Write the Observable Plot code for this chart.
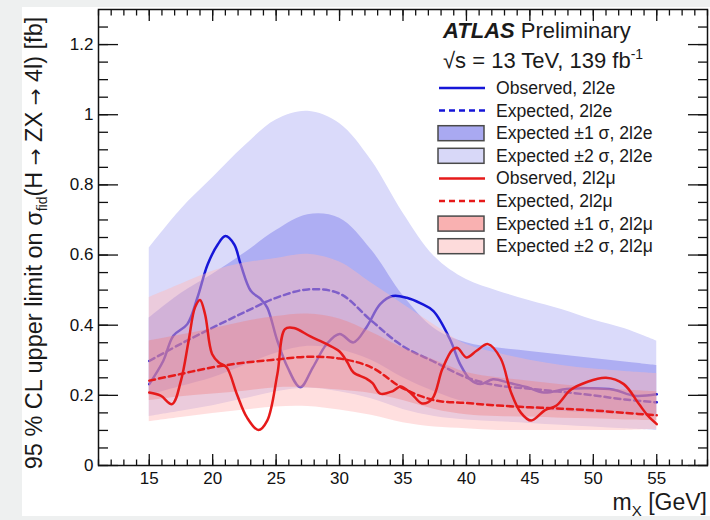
<!DOCTYPE html>
<html><head><meta charset="utf-8">
<script src="https://cdn.jsdelivr.net/npm/d3@7"></script>
<script src="https://cdn.jsdelivr.net/npm/@observablehq/plot@0.6"></script>
<style>
html,body{margin:0;padding:0;background:#eef0f0;width:710px;height:520px;overflow:hidden}
#panel{position:absolute;left:22px;top:7px;width:688px;height:509px;background:#fff}
#chart{position:absolute;left:0;top:0}
</style></head><body><div id="panel"></div><div id="chart"></div>
<script>
// ---- data ----
const bandX = [15, 17.5, 20, 22.5, 25, 27.5, 30, 32.5, 35, 37.5, 40, 42.5, 45, 47.5, 50, 52.5, 55];
// 2l2e expected bands
const e2Lo = [0.14, 0.155, 0.17, 0.19, 0.21, 0.22, 0.21, 0.19, 0.16, 0.14, 0.13, 0.125, 0.12, 0.115, 0.11, 0.105, 0.10];
const e2Hi = [0.62, 0.73, 0.82, 0.91, 0.985, 1.01, 0.975, 0.87, 0.72, 0.595, 0.53, 0.497, 0.47, 0.445, 0.415, 0.39, 0.355];
const e1Lo = [0.2, 0.225, 0.25, 0.285, 0.32, 0.34, 0.33, 0.3, 0.25, 0.21, 0.18, 0.17, 0.16, 0.155, 0.15, 0.145, 0.14];
const e1Hi = [0.42, 0.49, 0.545, 0.605, 0.67, 0.715, 0.705, 0.615, 0.485, 0.39, 0.35, 0.335, 0.325, 0.315, 0.305, 0.295, 0.285];
const eExp = [0.298, 0.347, 0.393, 0.437, 0.478, 0.502, 0.49, 0.413, 0.34, 0.295, 0.251, 0.228, 0.219, 0.21, 0.2, 0.188, 0.18];
// 2l2mu expected bands
const m2Lo = [0.125, 0.137, 0.148, 0.158, 0.167, 0.168, 0.158, 0.143, 0.122, 0.11, 0.105, 0.10, 0.10, 0.10, 0.10, 0.10, 0.103];
const m2Hi = [0.479, 0.517, 0.554, 0.577, 0.59, 0.602, 0.58, 0.52, 0.46, 0.40, 0.345, 0.32, 0.30, 0.285, 0.275, 0.268, 0.262];
const m1Lo = [0.185, 0.196, 0.204, 0.212, 0.222, 0.222, 0.215, 0.205, 0.185, 0.16, 0.145, 0.14, 0.138, 0.135, 0.133, 0.13, 0.128];
const m1Hi = [0.355, 0.372, 0.39, 0.41, 0.425, 0.432, 0.418, 0.38, 0.335, 0.30, 0.265, 0.25, 0.24, 0.23, 0.222, 0.215, 0.21];
const mExp = [0.242, 0.261, 0.28, 0.293, 0.302, 0.31, 0.305, 0.28, 0.22, 0.186, 0.178, 0.171, 0.166, 0.162, 0.157, 0.15, 0.143];
// observed limits
const eObsX = [15, 16.1, 16.9, 18, 18.8, 19.6, 20.4, 21, 21.7, 22.2, 23, 23.8, 24.3, 25.1, 25.9, 26.9, 27.9, 29, 30, 31.1, 32.1, 33.2, 34.2, 35.3, 36.4, 37.4, 38.7, 39.5, 40.3, 41.1, 42.1, 43.4, 44.8, 46.1, 47.9, 49.5, 51.6, 53.2, 55];
const eObsY = [0.232, 0.298, 0.37, 0.403, 0.479, 0.573, 0.63, 0.654, 0.63, 0.574, 0.498, 0.474, 0.45, 0.355, 0.28, 0.223, 0.28, 0.347, 0.375, 0.351, 0.393, 0.46, 0.483, 0.478, 0.462, 0.44, 0.36, 0.289, 0.245, 0.232, 0.246, 0.235, 0.223, 0.208, 0.218, 0.22, 0.216, 0.199, 0.203];
const mObsX = [15, 15.9, 16.8, 17.5, 18.1, 18.6, 19, 19.4, 19.95, 20.5, 21.1, 21.9, 22.7, 23.6, 24.3, 25.1, 25.7, 26.4, 27.7, 29, 30, 30.6, 31.1, 32.1, 32.6, 33.2, 34.2, 34.8, 35.6, 36.5, 37.3, 38.1, 38.9, 39.3, 40, 40.8, 41.7, 42.7, 43.5, 44.3, 45.1, 46.2, 47.1, 48.2, 49.5, 51, 52.4, 53.6, 54.3, 55];
const mObsY = [0.208, 0.199, 0.175, 0.242, 0.355, 0.45, 0.472, 0.431, 0.318, 0.293, 0.28, 0.204, 0.137, 0.101, 0.128, 0.261, 0.389, 0.392, 0.368, 0.346, 0.325, 0.295, 0.265, 0.248, 0.235, 0.205, 0.212, 0.225, 0.207, 0.177, 0.19, 0.275, 0.33, 0.335, 0.308, 0.327, 0.346, 0.305, 0.21, 0.15, 0.128, 0.158, 0.171, 0.215, 0.238, 0.25, 0.232, 0.175, 0.142, 0.118];
// axes
const xTicks = [15, 20, 25, 30, 35, 40, 45, 50, 55];
const yTicks = [0, 0.2, 0.4, 0.6, 0.8, 1, 1.2];
const yTickLabels = ["0", "0.2", "0.4", "0.6", "0.8", "1", "1.2"];
const xMinor = d3.range(11, 60, 1);
const yMinor = d3.range(0, 1.3, 0.05);
const legendLabels = ["Observed, 2l2e", "Expected, 2l2e", "Expected \u00b11 \u03c3, 2l2e", "Expected \u00b12 \u03c3, 2l2e",
                      "Observed, 2l2\u03bc", "Expected, 2l2\u03bc", "Expected \u00b11 \u03c3, 2l2\u03bc", "Expected \u00b12 \u03c3, 2l2\u03bc"];

// ---- tables ----
const bands = bandX.map((x, i) => ({x, e2Lo: e2Lo[i], e2Hi: e2Hi[i], e1Lo: e1Lo[i], e1Hi: e1Hi[i], eExp: eExp[i],
  m2Lo: m2Lo[i], m2Hi: m2Hi[i], m1Lo: m1Lo[i], m1Hi: m1Hi[i], mExp: mExp[i]}));
const eObs = eObsX.map((x, i) => ({x, y: eObsY[i]}));
const mObs = mObsX.map((x, i) => ({x, y: mObsY[i]}));

const C = {
  blue2: "#dadafa", blue1: "#aeaef3", blueLine: "#1616d8",
  red2: "rgb(255,185,185)", red1: "rgb(242,125,125)", redLine: "#e61a1a"
};
const curve = "catmull-rom";
const none = () => "";

const plot = Plot.plot({
  width: 710, height: 520,
  marginLeft: 98, marginRight: 3, marginTop: 9, marginBottom: 55,
  style: {background: "transparent", fontFamily: "'Liberation Sans', Arial, sans-serif", fontSize: "17px", color: "#111", overflow: "visible"},
  x: {domain: [11, 59]},
  y: {domain: [0, 1.3]},
  marks: [
    Plot.areaY(bands, {x: "x", y1: "e2Lo", y2: "e2Hi", fill: C.blue2, curve}),
    Plot.areaY(bands, {x: "x", y1: "e1Lo", y2: "e1Hi", fill: C.blue1, curve}),
    Plot.line(bands, {x: "x", y: "eExp", stroke: C.blueLine, strokeWidth: 2.5, strokeDasharray: "6,4", curve}),
    Plot.line(eObs, {x: "x", y: "y", stroke: C.blueLine, strokeWidth: 2.5, curve}),
    Plot.areaY(bands, {x: "x", y1: "m2Lo", y2: "m2Hi", fill: C.red2, fillOpacity: 0.45, curve}),
    Plot.areaY(bands, {x: "x", y1: "m1Lo", y2: "m1Hi", fill: C.red1, fillOpacity: 0.37, curve}),
    Plot.line(bands, {x: "x", y: "mExp", stroke: C.redLine, strokeWidth: 2.5, strokeDasharray: "6,4", curve}),
    Plot.line(mObs, {x: "x", y: "y", stroke: C.redLine, strokeWidth: 2.5, curve}),
    Plot.frame({stroke: "#111", strokeWidth: 1.5}),
    Plot.axisY(yTicks, {anchor: "left", tickSize: -20, tickPadding: 25, tickFormat: d => yTickLabels[yTicks.indexOf(d)], fontSize: 17, label: null, strokeWidth: 1.3}),
    Plot.axisY(yMinor, {anchor: "left", tickSize: -10, tickFormat: none, label: null, strokeWidth: 1.3}),
    Plot.axisY(yTicks, {anchor: "right", tickSize: -20, tickFormat: none, label: null, strokeWidth: 1.3}),
    Plot.axisY(yMinor, {anchor: "right", tickSize: -10, tickFormat: none, label: null, strokeWidth: 1.3}),
    Plot.axisX(xTicks, {anchor: "bottom", tickSize: -11, tickPadding: 17, tickFormat: d => String(d), fontSize: 17, label: null, strokeWidth: 1.3}),
    Plot.axisX(xMinor, {anchor: "bottom", tickSize: -5.5, tickFormat: none, label: null, strokeWidth: 1.3}),
    Plot.axisX(xTicks, {anchor: "top", tickSize: -11, tickFormat: none, label: null, strokeWidth: 1.3}),
    Plot.axisX(xMinor, {anchor: "top", tickSize: -5.5, tickFormat: none, label: null, strokeWidth: 1.3})
  ]
});
document.getElementById("chart").appendChild(plot);

// ---- axis titles and legend as real text ----
const svg = d3.select(plot);
const FONT = "'Liberation Sans', Arial, sans-serif";
const ARROWFONT = "'DejaVu Sans', 'Liberation Sans', sans-serif";
const ink = "#1a1a1a";

const yl = svg.append("text").attr("transform", "translate(42,243) rotate(-90)")
  .attr("text-anchor", "middle").attr("font-family", FONT).attr("font-size", 23.5).attr("fill", ink);
yl.append("tspan").text("95 % CL upper limit on \u03c3");
yl.append("tspan").attr("font-size", 14).attr("dy", 5).text("fid");
yl.append("tspan").attr("dy", -5).text("(H ");
yl.append("tspan").attr("font-family", ARROWFONT).attr("font-size", 20).text("\u2192");
yl.append("tspan").text(" ZX ");
yl.append("tspan").attr("font-family", ARROWFONT).attr("font-size", 20).text("\u2192");
yl.append("tspan").text(" 4l) [fb]");

const xl = svg.append("text").attr("x", 707).attr("y", 510).attr("text-anchor", "end")
  .attr("font-family", FONT).attr("font-size", 23).attr("fill", ink);
xl.append("tspan").text("m");
xl.append("tspan").attr("font-size", 15).attr("dy", 6).text("X");
xl.append("tspan").attr("dy", -6).text(" [GeV]");

const g = svg.append("g").attr("font-family", FONT).attr("fill", ink).attr("text-anchor", "start");
const t1 = g.append("text").attr("x", 443).attr("y", 38).attr("font-size", 22).attr("text-anchor", "start");
t1.append("tspan").attr("font-weight", "bold").attr("font-style", "italic").text("ATLAS");
t1.append("tspan").text(" Preliminary");
const t2 = g.append("text").attr("x", 443).attr("y", 68).attr("font-size", 22).attr("text-anchor", "start");
t2.append("tspan").text("\u221as = 13 TeV, 139 fb");
t2.append("tspan").attr("font-size", 14).attr("dy", -9).text("-1");

const kinds = ["solid", "dashed", "box1", "box2", "solid", "dashed", "box1", "box2"];
const swFill = {box1: ["#a9a9f1", "rgb(249,177,177)"], box2: ["#d8d8f8", "rgb(253,219,219)"]};
legendLabels.forEach((lab, i) => {
  const base = 94 + i * 22.6;
  const cy = base - 6;
  const red = i >= 4;
  const col = red ? C.redLine : C.blueLine;
  const k = kinds[i];
  if (k === "solid" || k === "dashed") {
    g.append("line").attr("x1", 439).attr("x2", 485).attr("y1", cy).attr("y2", cy)
      .attr("stroke", col).attr("stroke-width", 2.5)
      .attr("stroke-dasharray", k === "dashed" ? "6,4" : null);
  } else {
    g.append("rect").attr("x", 438).attr("y", cy - 7.5).attr("width", 46).attr("height", 15)
      .attr("fill", swFill[k][red ? 1 : 0]).attr("stroke", "#4a4a4a").attr("stroke-width", 1.5);
  }
  g.append("text").attr("x", 496).attr("y", base).attr("font-size", 17.6).attr("text-anchor", "start").text(lab);
});
</script>
</body></html>
